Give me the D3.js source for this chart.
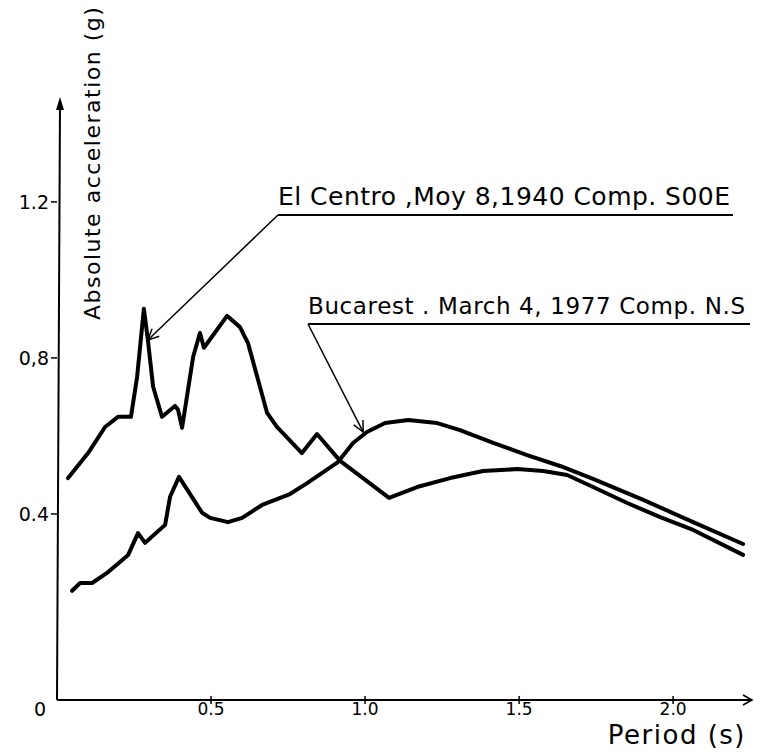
<!DOCTYPE html>
<html>
<head>
<meta charset="utf-8">
<script src="https://cdn.jsdelivr.net/npm/d3@7/dist/d3.min.js"></script>
<style>
  html, body { margin: 0; padding: 0; background: #fff; }
  svg { display: block; }
  text { font-family: "DejaVu Sans", "Noto Sans", sans-serif; fill: #000; }
</style>
</head>
<body>
<svg id="chart" width="779" height="753"></svg>
<script>
// Response spectra: absolute acceleration (g) against period (s)
const elCentroPeriod = [0.036, 0.101, 0.156, 0.198, 0.240, 0.260, 0.282, 0.295, 0.312, 0.341,
  0.383, 0.393, 0.406, 0.442, 0.464, 0.477, 0.552, 0.594, 0.620, 0.682, 0.714, 0.795, 0.844,
  0.919, 1.078, 1.169, 1.276, 1.383, 1.494, 1.578, 1.656, 1.740, 1.851, 1.958, 2.065, 2.227];
const elCentroAccel = [0.492, 0.556, 0.623, 0.649, 0.649, 0.751, 0.926, 0.846, 0.726, 0.649,
  0.677, 0.667, 0.621, 0.803, 0.864, 0.826, 0.908, 0.879, 0.838, 0.659, 0.623, 0.556, 0.605,
  0.536, 0.441, 0.469, 0.492, 0.510, 0.515, 0.510, 0.500, 0.469, 0.428, 0.392, 0.359, 0.295];

const bucarestPeriod = [0.049, 0.075, 0.114, 0.166, 0.231, 0.263, 0.286, 0.351, 0.367, 0.396,
  0.471, 0.497, 0.555, 0.601, 0.666, 0.756, 0.812, 0.912, 0.961, 1.006, 1.065, 1.140, 1.234,
  1.308, 1.416, 1.526, 1.633, 1.740, 1.903, 2.065, 2.227];
const bucarestAccel = [0.203, 0.223, 0.223, 0.251, 0.295, 0.351, 0.326, 0.372, 0.444, 0.495,
  0.403, 0.390, 0.379, 0.390, 0.423, 0.451, 0.479, 0.533, 0.582, 0.610, 0.633, 0.641, 0.633,
  0.615, 0.582, 0.551, 0.523, 0.490, 0.436, 0.379, 0.323];

const xTicks = [0.5, 1.0, 1.5, 2.0];
const xTickLabels = ["0.5", "1.0", "1.5", "2.0"];
const yTicks = [0.4, 0.8, 1.2];
const yTickLabels = ["0.4", "0,8", "1.2"];

const seriesNames = ["El Centro ,Moy 8,1940  Comp. S00E", "Bucarest . March 4, 1977 Comp. N.S"];
// points on each curve that the leader arrows touch
const arrowPeriod = [0.295, 0.994];
const arrowAccel = [0.846, 0.610];

const svg = d3.select("#chart");

const x = d3.scaleLinear().domain([0, 2.256]).range([57, 752]);
const y = d3.scaleLinear().domain([-0.077, 1.469]).range([700, 97]);

// axes
const axisY0 = y.range()[0];
svg.append("line")
  .attr("x1", x(0)).attr("y1", axisY0).attr("x2", x.range()[1] - 2).attr("y2", axisY0)
  .attr("stroke", "#000").attr("stroke-width", 2);
svg.append("path")
  .attr("d", `M${x.range()[1] - 9},${axisY0 - 5} L${x.range()[1]},${axisY0} L${x.range()[1] - 9},${axisY0 + 5}`)
  .attr("fill", "none").attr("stroke", "#000").attr("stroke-width", 1.6);

svg.append("line")
  .attr("x1", x(0)).attr("y1", axisY0).attr("x2", x(0) + 3).attr("y2", y.range()[1] + 6)
  .attr("stroke", "#000").attr("stroke-width", 2);
svg.append("path")
  .attr("d", `M${x(0) + 3},${y.range()[1]} L${x(0) - 1},${y.range()[1] + 13} L${x(0) + 7},${y.range()[1] + 13} Z`)
  .attr("fill", "#000");

// x ticks and labels
const xg = svg.append("g");
xg.selectAll("line").data(xTicks).join("line")
  .attr("x1", d => x(d)).attr("x2", d => x(d))
  .attr("y1", axisY0 - 4).attr("y2", axisY0 + 4)
  .attr("stroke", "#000").attr("stroke-width", 1.5);
xg.selectAll("text").data(xTicks).join("text")
  .attr("x", d => x(d)).attr("y", axisY0 + 15)
  .attr("text-anchor", "middle").attr("font-size", 17)
  .text((d, i) => xTickLabels[i]);
svg.append("text").attr("x", x(0) - 17).attr("y", axisY0 + 16)
  .attr("text-anchor", "middle").attr("font-size", 19).text("0");

// y ticks and labels
const yg = svg.append("g");
yg.selectAll("line").data(yTicks).join("line")
  .attr("x1", x(0) - 6).attr("x2", x(0))
  .attr("y1", d => y(d)).attr("y2", d => y(d))
  .attr("stroke", "#000").attr("stroke-width", 1.5);
yg.selectAll("text").data(yTicks).join("text")
  .attr("x", x(0) - 8).attr("y", d => y(d) + 7)
  .attr("text-anchor", "end").attr("font-size", 19)
  .text((d, i) => yTickLabels[i]);

// axis titles
svg.append("text")
  .attr("transform", "translate(100,320) rotate(-90)")
  .attr("font-size", 22).attr("letter-spacing", 1.5)
  .text("Absolute acceleration (g)");
svg.append("text")
  .attr("x", 746).attr("y", 744).attr("text-anchor", "end")
  .attr("font-size", 26).attr("letter-spacing", 1.5)
  .text("Period (s)");

// spectra
const line = d3.line().x(d => x(d[0])).y(d => y(d[1])).curve(d3.curveLinear);
const elCentro = elCentroPeriod.map((p, i) => [p, elCentroAccel[i]]);
const bucarest = bucarestPeriod.map((p, i) => [p, bucarestAccel[i]]);
svg.selectAll("path.spectrum").data([elCentro, bucarest]).join("path")
  .attr("class", "spectrum")
  .attr("d", line)
  .attr("fill", "none").attr("stroke", "#000")
  .attr("stroke-width", 4).attr("stroke-linejoin", "round").attr("stroke-linecap", "round");

// labels with underline and leader arrow
const labelLayout = [
  { textX: 278, textY: 205, lineX1: 278, lineX2: 733, lineY: 215, size: 25, width: 452 },
  { textX: 308, textY: 314, lineX1: 308, lineX2: 750, lineY: 324, size: 23, width: 437 }
];
labelLayout.forEach((L, i) => {
  const g = svg.append("g");
  g.append("text").attr("x", L.textX).attr("y", L.textY)
    .attr("font-size", L.size)
    .attr("textLength", L.width).attr("lengthAdjust", "spacing")
    .text(seriesNames[i]);
  g.append("line").attr("x1", L.lineX1).attr("x2", L.lineX2)
    .attr("y1", L.lineY).attr("y2", L.lineY)
    .attr("stroke", "#000").attr("stroke-width", 2);
  const tx = x(arrowPeriod[i]), ty = y(arrowAccel[i]);
  g.append("line").attr("x1", L.lineX1).attr("y1", L.lineY).attr("x2", tx).attr("y2", ty)
    .attr("stroke", "#000").attr("stroke-width", 1.5);
  const ang = Math.atan2(ty - L.lineY, tx - L.lineX1);
  const len = 12, spread = 0.45;
  const a1 = [tx - len * Math.cos(ang - spread), ty - len * Math.sin(ang - spread)];
  const a2 = [tx - len * Math.cos(ang + spread), ty - len * Math.sin(ang + spread)];
  g.append("path").attr("d", `M${a1[0]},${a1[1]} L${tx},${ty} L${a2[0]},${a2[1]}`)
    .attr("fill", "none").attr("stroke", "#000").attr("stroke-width", 1.5);
});
</script>
</body>
</html>
